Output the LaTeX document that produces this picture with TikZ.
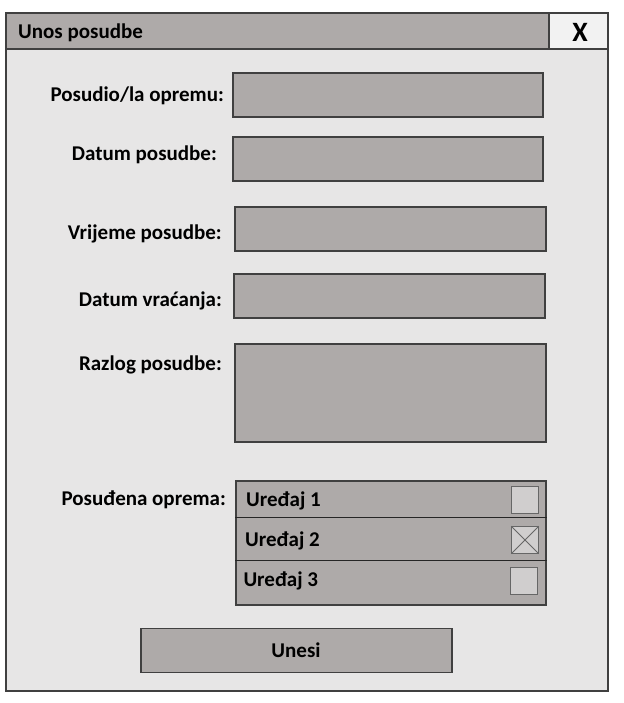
\documentclass[tikz,border=0pt]{standalone}
\usepackage{fontspec}
\setmainfont{Carlito}
\definecolor{bargray}{RGB}{174,170,169}
\definecolor{bodygray}{RGB}{231,230,230}
\definecolor{boxgray}{RGB}{208,206,206}
\definecolor{closegray}{RGB}{242,242,242}
\definecolor{edgegray}{RGB}{64,64,64}
\tikzset{
field/.style={draw=edgegray, fill=bargray, line width=1.2pt, inner sep=0pt},
fieldtext/.style={font=\bfseries\fontsize{21}{25}\selectfont, inner sep=0pt},
checkbox/.style={draw=edgegray!80, fill=boxgray, line width=0.9pt, minimum size=26.5pt, inner sep=0pt}
}
\begin{document}
\begin{tikzpicture}[x=1pt, y=-1pt]
\useasboundingbox (0,0) rectangle (623,703);
% window and title bar
\draw[fill=bodygray, draw=edgegray, line width=1.2pt] (6,13) rectangle (608,691);
\draw[fill=bargray, draw=edgegray, line width=1.2pt] (6,13) rectangle (549,49);
\draw[fill=closegray, draw=edgegray, line width=1.2pt] (549,13) rectangle (608,49);
\node[fieldtext, anchor=base west] (title) at (18,39) {Unos posudbe};
\node[font=\bfseries\fontsize{28}{32}\selectfont, inner sep=0pt] (close) at (580,32) {X};
% input fields
\node[field, minimum width=310pt, minimum height=44pt] (f1) at (388,95) {};
\node[field, minimum width=310pt, minimum height=44pt] (f2) at (388,159) {};
\node[field, minimum width=311pt, minimum height=44pt] (f3) at (390.5,229) {};
\node[field, minimum width=311pt, minimum height=44pt] (f4) at (389.5,296) {};
\node[field, minimum width=311pt, minimum height=98pt] (f5) at (390.5,393) {};
\node[fieldtext, anchor=base east] (l1) at (224,101.7) {Posudio/la opremu:};
\node[fieldtext, anchor=base east] (l2) at (217,161) {Datum posudbe:};
\node[fieldtext, anchor=base east] (l3) at (222,239.3) {Vrijeme posudbe:};
\node[fieldtext, anchor=base east] (l4) at (222,306) {Datum vraćanja:};
\node[fieldtext, anchor=base east] (l5) at (222,370) {Razlog posudbe:};
% equipment list
\node[field, minimum width=310pt, minimum height=124pt] (list) at (391,543) {};
\draw[line width=1.2pt, draw=black!85] (list.west |- 0,517.5) -- (list.east |- 0,517.5);
\draw[line width=1.2pt, draw=black!85] (list.west |- 0,560.7) -- (list.east |- 0,560.7);
\node[fieldtext, anchor=base east] (l6) at (226,505) {Posuđena oprema:};
\node[fieldtext, anchor=base west] (r1) at (246,506.7) {Uređaj 1};
\node[fieldtext, anchor=base west] (r2) at (245,546.7) {Uređaj 2};
\node[fieldtext, anchor=base west] (r3) at (243.3,586) {Uređaj 3};
\node[checkbox] (c1) at (525,500) {};
\node[checkbox] (c2) at (525,540) {};
\node[checkbox] (c3) at (523.7,580.7) {};
\draw[draw=edgegray!80, line width=0.9pt] (c2.north west) -- (c2.south east);
\draw[draw=edgegray!80, line width=0.9pt] (c2.south west) -- (c2.north east);
% button
\node[field, minimum width=311pt, minimum height=44pt] (btn) at (296.5,650.7) {};
\node[fieldtext, anchor=base] (unesi) at (296,657.3) {Unesi};
\end{tikzpicture}
\end{document}
